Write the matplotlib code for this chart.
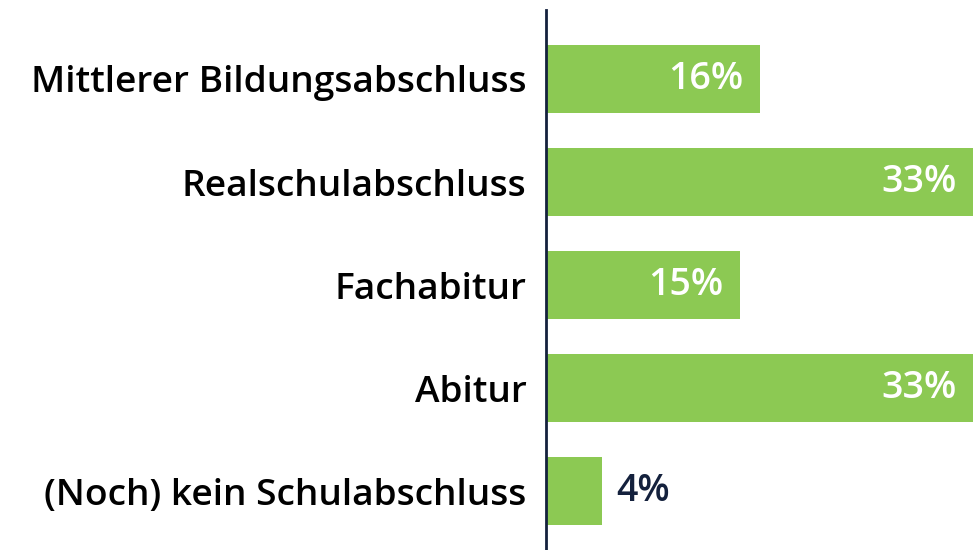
import matplotlib
matplotlib.use("Agg")
from matplotlib import pyplot as plt

categories = ["Mittlerer Bildungsabschluss", "Realschulabschluss", "Fachabitur",
              "Abitur", "(Noch) kein Schulabschluss"]
values = [16.1, 33.0, 14.6, 33.0, 4.2]
labels = ["16%", "33%", "15%", "33%", "4%"]

GREEN = "#8cc953"
NAVY = "#14213d"

plt.rcParams["font.family"] = ["Open Sans", "DejaVu Sans"]

fig = plt.figure(figsize=(9.73, 5.5), dpi=100)
ax = fig.add_axes([0.561, 0.0, 0.439, 0.982])

ypos = list(range(len(categories)))
ax.barh(ypos, values, height=0.66, color=GREEN, zorder=2)

ax.set_xlim(0, 32.1)
ax.set_ylim(4.57, -0.67)

for y, v, lab in zip(ypos, values, labels):
    if v > 8:
        ax.text(min(v, 32.1) - 1.25, y, lab, ha="right", va="center",
                color="white", fontsize=27, fontweight="semibold")
    else:
        ax.text(v + 1.1, y, lab, ha="left", va="center",
                color=NAVY, fontsize=27, fontweight="semibold")

ax.set_yticks(ypos)
ax.set_yticklabels(categories, fontsize=26.7, fontweight="semibold", color="black")
ax.tick_params(axis="y", length=0, pad=14)
ax.set_xticks([])

for side in ["top", "right", "bottom"]:
    ax.spines[side].set_visible(False)
ax.spines["left"].set_color(NAVY)
ax.spines["left"].set_linewidth(2)
ax.spines["left"].set_zorder(3)

fig.savefig("out.png", dpi=100)
